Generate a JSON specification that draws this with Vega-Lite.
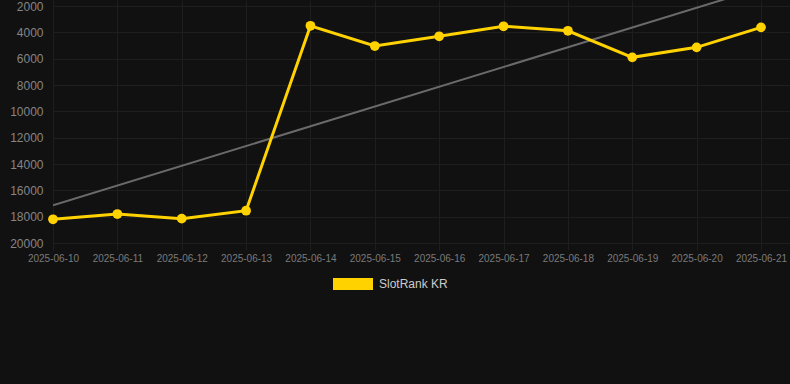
{
  "$schema": "https://vega.github.io/schema/vega-lite/v6.json",
  "width": 737,
  "height": 243,
  "autosize": {"type": "none"},
  "padding": {"left": 53, "top": 0, "right": 0, "bottom": 141},
  "background": "#111111",
  "config": {"view": {"stroke": null}, "font": "Liberation Sans"},
  "data": {
    "values": [
      {"date": "2025-06-10", "value": 18200},
      {"date": "2025-06-11", "value": 17800},
      {"date": "2025-06-12", "value": 18150},
      {"date": "2025-06-13", "value": 17550},
      {"date": "2025-06-14", "value": 3500},
      {"date": "2025-06-15", "value": 5040},
      {"date": "2025-06-16", "value": 4300},
      {"date": "2025-06-17", "value": 3540},
      {"date": "2025-06-18", "value": 3880},
      {"date": "2025-06-19", "value": 5900},
      {"date": "2025-06-20", "value": 5140},
      {"date": "2025-06-21", "value": 3620}
    ],
    "format": {"parse": {"date": "date"}}
  },
  "encoding": {
    "x": {
      "field": "date",
      "type": "temporal",
      "title": null,
      "scale": {
        "type": "utc",
        "domain": [
          {"year": 2025, "month": 6, "date": 10, "utc": true},
          {"year": 2025, "month": 6, "date": 21, "hours": 10, "minutes": 49, "utc": true}
        ]
      },
      "axis": {
        "format": "%Y-%m-%d",
        "tickCount": {"interval": "day", "step": 1},
        "labelFontSize": 10,
        "labelColor": "#7a7a7a",
        "labelPadding": 3,
        "labelFlush": false,
        "labelOverlap": false,
        "grid": true,
        "gridColor": "#1e1e1e",
        "domain": false,
        "ticks": true,
        "tickSize": 7,
        "tickColor": "#1e1e1e"
      }
    },
    "y": {
      "field": "value",
      "type": "quantitative",
      "title": null,
      "scale": {"domain": [1544, 20000], "reverse": true, "nice": false, "zero": false},
      "axis": {
        "values": [2000, 4000, 6000, 8000, 10000, 12000, 14000, 16000, 18000, 20000],
        "format": "d",
        "labelFontSize": 12,
        "labelColor": "#858585",
        "labelPadding": 10,
        "ticks": false,
        "tickSize": 0,
        "domain": false,
        "grid": true,
        "gridColor": "#1e1e1e"
      }
    }
  },
  "layer": [
    {
      "transform": [{"regression": "value", "on": "date"}],
      "mark": {"type": "line", "color": "#6a6a6a", "strokeWidth": 2, "clip": true}
    },
    {
      "mark": {
        "type": "line",
        "strokeWidth": 3,
        "point": {"filled": true, "size": 95}
      },
      "encoding": {
        "color": {
          "datum": "SlotRank KR",
          "scale": {"range": ["#FFD200"]},
          "legend": {
            "title": null,
            "orient": "none",
            "legendX": 280,
            "legendY": 264,
            "padding": 0,
            "labelFontSize": 12,
            "labelColor": "#cccccc",
            "labelOffset": 6,
            "symbolType": "M-1,-0.3H1V0.3H-1Z",
            "symbolSize": 1600,
            "symbolStrokeWidth": 0,
            "symbolFillColor": "#FFD200",
            "encode": {
              "symbols": {
                "update": {
                  "fill": {"value": "#FFD200"},
                  "stroke": {"value": "#FFD200"},
                  "strokeWidth": {"value": 0},
                  "shape": {"value": "M-1,-0.3H1V0.3H-1Z"},
                  "size": {"value": 1600}
                }
              }
            }
          }
        }
      }
    }
  ]
}
